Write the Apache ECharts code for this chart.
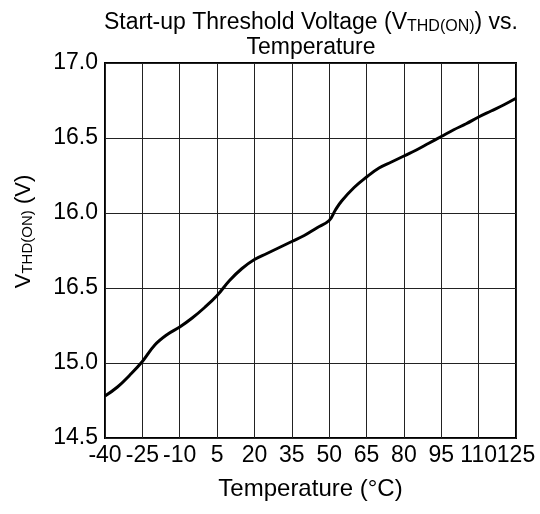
<!DOCTYPE html>
<html>
<head>
<meta charset="utf-8">
<script src="https://cdn.jsdelivr.net/npm/echarts@6/dist/echarts.min.js"></script>
<style>
  html, body { margin: 0; padding: 0; background: #fff; }
  #chart { width: 540px; height: 514px; }
</style>
</head>
<body>
<div id="chart"></div>
<script>
// temperature (°C) and start-up threshold voltage (V)
const temps = [-40, -35, -30, -25, -20, -15, -10, -5, 0, 5, 10, 15, 20, 25, 30, 35, 40, 45, 50, 52.5, 55, 60, 65, 70, 75, 80, 85, 90, 95, 100, 105, 110, 115, 120, 125]
const vthd = [14.78, 14.84, 14.92, 15.01, 15.12, 15.19, 15.24, 15.30, 15.37, 15.45, 15.55, 15.63, 15.69, 15.73, 15.77, 15.81, 15.85, 15.90, 15.95, 16.02, 16.08, 16.17, 16.24, 16.30, 16.34, 16.38, 16.42, 16.465, 16.51, 16.555, 16.595, 16.64, 16.68, 16.72, 16.765]
// y tick labels exactly as printed (the original repeats 16.5)
const yTicks = [14.5, 15.0, 15.5, 16.0, 16.5, 17.0]
const yTickLabels = ['14.5', '15.0', '16.5', '16.0', '16.5', '17.0']

const font = 'Arial, "Liberation Sans", sans-serif'
const chart = echarts.init(document.getElementById('chart'))

const option = {
  animation: false,
  title: {
    text: 'Start-up Threshold Voltage (V{sub|THD(ON)}) vs.\nTemperature',
    left: 306,
    textAlign: 'center',
    top: 5,
    textStyle: {
      fontFamily: font,
      fontSize: 23,
      fontWeight: 'normal',
      color: '#000',
      lineHeight: 25,
      rich: {
        sub: { fontFamily: font, fontSize: 16, color: '#000', verticalAlign: 'bottom', lineHeight: 19 }
      }
    }
  },
  grid: {
    left: 105,
    right: 24,
    top: 63,
    bottom: 76,
    show: true,
    borderColor: '#000',
    borderWidth: 2
  },
  xAxis: {
    type: 'value',
    min: -40,
    max: 125,
    interval: 15,
    name: 'Temperature (°C)',
    nameLocation: 'middle',
    nameGap: 39,
    nameTextStyle: { fontFamily: font, fontSize: 24, color: '#000' },
    axisLine: { show: false },
    axisTick: { show: false },
    axisLabel: {
      fontFamily: font, fontSize: 23, color: '#000', margin: 6,
      showMinLabel: true, showMaxLabel: true, hideOverlap: false
    },
    splitLine: { show: true, lineStyle: { color: '#222', width: 1 } }
  },
  yAxis: {
    type: 'value',
    min: 14.5,
    max: 17,
    interval: 0.5,
    name: '{v|V}{sub|THD(ON)}{v| (V)}',
    nameLocation: 'middle',
    nameGap: 70,
    nameTextStyle: {
      padding: [0, 0, 0, 38],
      rich: {
        v: { fontFamily: font, fontSize: 22, color: '#000' },
        sub: { fontFamily: font, fontSize: 15, color: '#000', verticalAlign: 'bottom' }
      }
    },
    axisLine: { show: false },
    axisTick: { show: false },
    axisLabel: {
      fontFamily: font, fontSize: 23, color: '#000', margin: 7,
      formatter: function (val) {
        const i = yTicks.findIndex(t => Math.abs(t - val) < 1e-6)
        return i >= 0 ? yTickLabels[i] : ''
      }
    },
    splitLine: { show: true, lineStyle: { color: '#222', width: 1 } }
  },
  series: [
    {
      type: 'line',
      data: temps.map((t, i) => [t, vthd[i]]),
      smooth: 0.4,
      showSymbol: false,
      lineStyle: { color: '#000', width: 3 }
    }
  ]
}
chart.setOption(option)
</script>
</body>
</html>
